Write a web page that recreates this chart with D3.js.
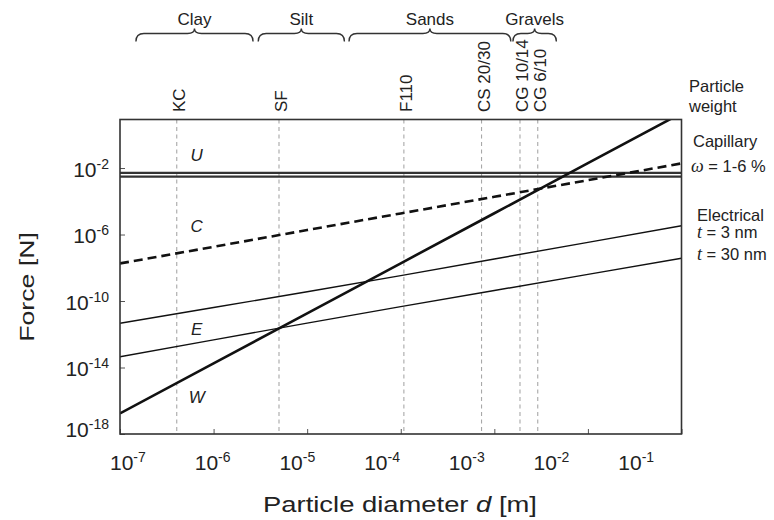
<!DOCTYPE html>
<html><head><meta charset="utf-8">
<script src="https://cdn.jsdelivr.net/npm/d3@7"></script>
<style>
html,body{margin:0;padding:0;background:#fff;}
svg{display:block;font-family:"Liberation Sans",Arial,Helvetica,sans-serif;}
</style>
</head><body><div id="chart"></div>
<script>
// ---------- data ----------
const diameters      = [1e-7, 1e-6, 1e-5, 1e-4, 1e-3, 1e-2, 1e-1];
const weightForce    = [1.74e-17, 1.78e-14, 1.82e-11, 1.86e-8, 1.9e-5, 1.95e-2, 20];
const capillaryForce = [1.82e-8, 1.82e-7, 1.86e-6, 1.86e-5, 1.86e-4, 1.86e-3, 1.9e-2];
const electrical3nm  = [4.57e-12, 4.07e-11, 3.63e-10, 3.39e-9, 3.39e-8, 3.39e-7, 3.39e-6];
const electrical30nm = [4.47e-14, 4.57e-13, 4.68e-12, 4.57e-11, 4.27e-10, 3.98e-9, 3.72e-8];
const upperBandForces = [5.1e-3, 3.0e-3];

const particleNames     = ["KC", "SF", "F110", "CS 20/30", "CG 10/14", "CG 6/10"];
const particleDiameters = [4.04e-7, 5.0e-6, 1.08e-4, 7.3e-4, 1.88e-3, 2.91e-3];

const soilClasses = ["Clay", "Silt", "Sands", "Gravels"];
const soilFrom    = [1.48e-7, 3.0e-6, 2.8e-5, 1.58e-3];
const soilTo      = [2.64e-6, 2.5e-5, 1.5e-3, 4.6e-3];

const xTickExponents = [-7, -6, -5, -4, -3, -2, -1];
const yTickExponents = [-2, -6, -10, -14, -18];

const curveLabels      = ["U", "C", "E", "W"];
const curveLabelD      = [6.6e-7, 6.6e-7, 6.6e-7, 6.6e-7];
const curveLabelForce  = [6e-2, 3.2e-6, 2e-12, 1.7e-16];

const sideLabels = ["Particle", "weight", "Capillary", "ω = 1-6 %", "Electrical", "t = 3 nm", "t = 30 nm"];

// ---------- layout ----------
const W = 774, H = 520;
const L = 120, R = 681.5, T = 119.5, B = 434;

const svg = d3.select("#chart").append("svg").attr("width", W).attr("height", H);

const x  = d3.scaleLog().domain([1e-7, 1e-1]).range([L, R]);
const xl = d3.scaleLog().domain([1e-7, 1e-1]).range([121.7, 630]); // label placement as in original artwork
const y  = d3.scaleLog().domain([1e-18, 8.3]).range([B, T]);

svg.append("defs").append("clipPath").attr("id", "plotclip")
  .append("rect").attr("x", L).attr("y", T).attr("width", R - L).attr("height", B - T);

// dashed reference particle lines
const plot = svg.append("g");
plot.selectAll("line.ref").data(particleDiameters).join("line")
  .attr("class", "ref")
  .attr("x1", d => x(d)).attr("x2", d => x(d))
  .attr("y1", T).attr("y2", B)
  .attr("stroke", "#a8a8a8").attr("stroke-width", 1.1)
  .attr("stroke-dasharray", "4,3.5");

// ticks (inward)
const xAxis = svg.append("g").attr("transform", `translate(0,${B})`)
  .call(d3.axisBottom(x).tickValues(xTickExponents.map(e => Math.pow(10, e))).tickSize(-5).tickFormat(""));
xAxis.select(".domain").remove();
xAxis.selectAll(".tick line").attr("stroke", "#555").attr("stroke-width", 1);

const yAxis = svg.append("g").attr("transform", `translate(${L},0)`)
  .call(d3.axisLeft(y).tickValues(yTickExponents.map(e => Math.pow(10, e))).tickSize(-5).tickFormat(""));
yAxis.select(".domain").remove();
yAxis.selectAll(".tick line").attr("stroke", "#555").attr("stroke-width", 1);

// curves
const series = d3.zip(diameters, weightForce);
const line = d3.line().x(d => x(d[0])).y(d => y(d[1]));
const curves = svg.append("g").attr("clip-path", "url(#plotclip)");

curves.selectAll("line.band").data(upperBandForces).join("line")
  .attr("class", "band")
  .attr("x1", L).attr("x2", R)
  .attr("y1", d => y(d)).attr("y2", d => y(d))
  .attr("stroke", "#333").attr("stroke-width", 2.2);

curves.append("path").datum(d3.zip(diameters, electrical3nm)).attr("d", line)
  .attr("fill", "none").attr("stroke", "#111").attr("stroke-width", 1.4);
curves.append("path").datum(d3.zip(diameters, electrical30nm)).attr("d", line)
  .attr("fill", "none").attr("stroke", "#111").attr("stroke-width", 1.4);
curves.append("path").datum(d3.zip(diameters, capillaryForce)).attr("d", line)
  .attr("fill", "none").attr("stroke", "#111").attr("stroke-width", 2.6)
  .attr("stroke-dasharray", "9,5");
curves.append("path").datum(series).attr("d", line)
  .attr("fill", "none").attr("stroke", "#111").attr("stroke-width", 2.6);

// border
svg.append("rect").attr("x", L).attr("y", T).attr("width", R - L).attr("height", B - T)
  .attr("fill", "none").attr("stroke", "#333").attr("stroke-width", 1.6);

// curve labels
svg.selectAll("text.clab").data(curveLabels).join("text")
  .attr("class", "clab")
  .attr("x", (d, i) => x(curveLabelD[i]))
  .attr("y", (d, i) => y(curveLabelForce[i]) + 6)
  .attr("text-anchor", "middle")
  .attr("font-size", 17).attr("font-style", "italic").attr("fill", "#222")
  .text(d => d);

// x tick labels
const xlab = svg.selectAll("text.xl").data(xTickExponents).join("text")
  .attr("class", "xl")
  .attr("x", d => xl(Math.pow(10, d)) - 11.7)
  .attr("y", 470)
  .attr("font-size", 21).attr("fill", "#222");
xlab.append("tspan").text("10");
xlab.append("tspan").attr("dy", -8).attr("font-size", 14).text(d => String(d));

// y tick labels
const ylab = svg.selectAll("text.yl").data(yTickExponents).join("text")
  .attr("class", "yl")
  .attr("x", 109)
  .attr("y", d => y(Math.pow(10, d)) + (d === -18 ? 2.5 : 8.5))
  .attr("text-anchor", "end")
  .attr("font-size", 21).attr("fill", "#222");
ylab.append("tspan").text("10");
ylab.append("tspan").attr("dy", -8).attr("font-size", 14).text(d => String(d));

// axis titles
const xt = svg.append("text")
  .attr("transform", "translate(400,512) scale(1.245,1)")
  .attr("text-anchor", "middle").attr("font-size", 22).attr("fill", "#222");
xt.append("tspan").text("Particle diameter ");
xt.append("tspan").attr("font-style", "italic").text("d");
xt.append("tspan").text(" [m]");

svg.append("text")
  .attr("transform", "translate(33.5,287) rotate(-90) scale(1.27,1)")
  .attr("text-anchor", "middle").attr("font-size", 21).attr("fill", "#222")
  .text("Force [N]");

// particle labels (rotated)
svg.selectAll("text.pl").data(particleNames).join("text")
  .attr("class", "pl")
  .attr("transform", (d, i) => `translate(${x(particleDiameters[i]) + 8},112) rotate(-90)`)
  .attr("font-size", 17).attr("fill", "#222")
  .text(d => d);

// soil class braces
function bracePath(x0, x1, yb) {
  const m = (x0 + x1) / 2;
  return `M${x0},${yb + 8} Q${x0},${yb} ${x0 + 8},${yb} L${m - 7},${yb} Q${m},${yb} ${m},${yb - 5} ` +
         `Q${m},${yb} ${m + 7},${yb} L${x1 - 8},${yb} Q${x1},${yb} ${x1},${yb + 8}`;
}
svg.selectAll("path.brace").data(soilClasses).join("path")
  .attr("class", "brace")
  .attr("d", (d, i) => bracePath(x(soilFrom[i]), x(soilTo[i]), 33.5))
  .attr("fill", "none").attr("stroke", "#333").attr("stroke-width", 1.4);
svg.selectAll("text.soil").data(soilClasses).join("text")
  .attr("class", "soil")
  .attr("x", (d, i) => (x(soilFrom[i]) + x(soilTo[i])) / 2)
  .attr("y", 25)
  .attr("text-anchor", "middle").attr("font-size", 17).attr("fill", "#222")
  .text(d => d);

// side labels
const sideX = [R + 7.5, R + 7.5, R + 11.5, R + 9.5, R + 15.5, R + 15.5, R + 15.5];
const sideY = [91.7, 112.3, 147.3, 172.3, 220.7, 238.3, 260];
svg.selectAll("text.side").data(sideLabels).join("text")
  .attr("class", "side")
  .attr("x", (d, i) => sideX[i])
  .attr("y", (d, i) => sideY[i])
  .attr("font-size", 16.5).attr("fill", "#222")
  .each(function(d) {
    const t = d3.select(this);
    const first = d.charAt(0);
    if (first === "ω" || (first === "t" && d.length > 1 && d.charAt(1) === " ")) {
      t.append("tspan").attr("font-style", "italic")
        .attr("font-family", "'Liberation Serif','Times New Roman',serif").attr("font-size", 18).text(first);
      t.append("tspan").text(d.slice(1));
    } else {
      t.text(d);
    }
  });
</script>
</body></html>
